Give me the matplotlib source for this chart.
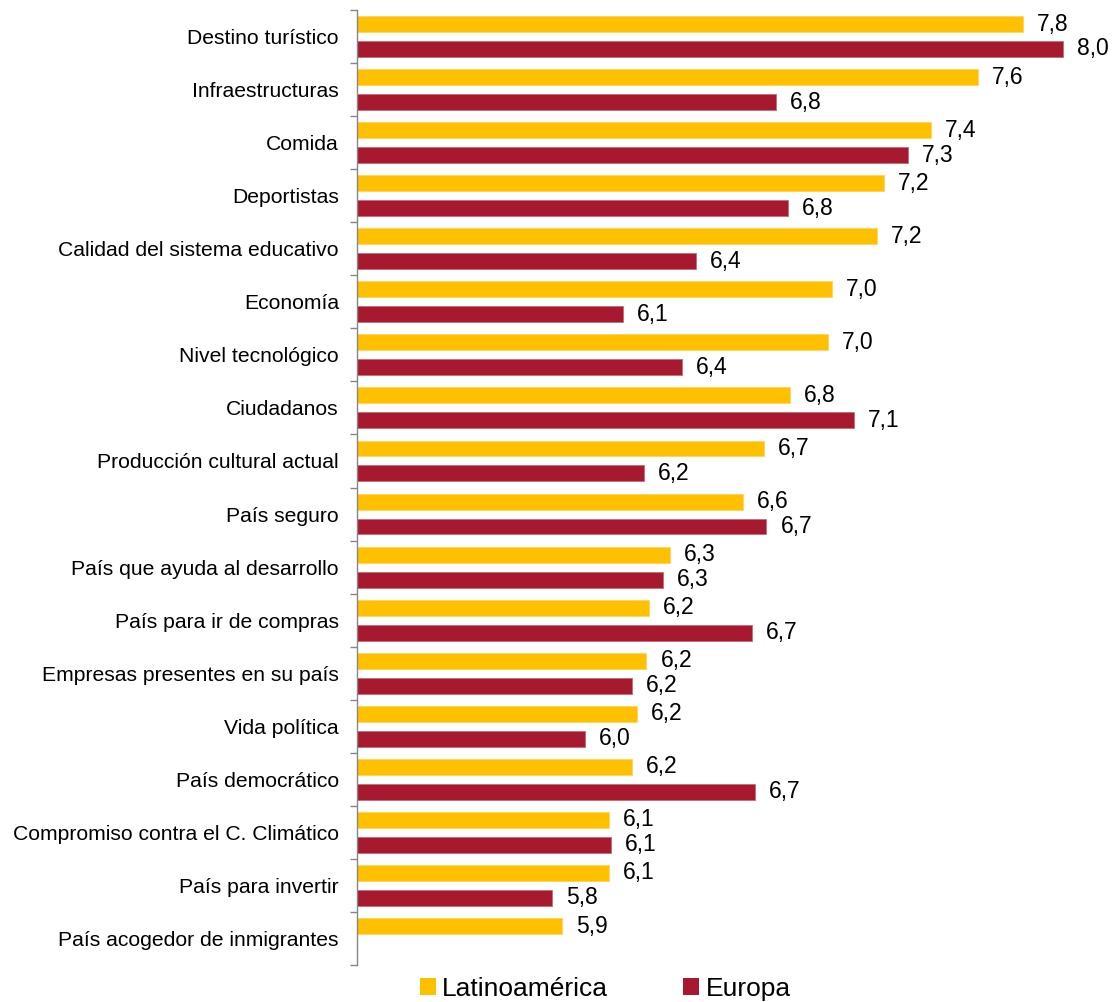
import numpy as np
import matplotlib
matplotlib.use("Agg")
import matplotlib.pyplot as plt
from matplotlib.patches import Patch

plt.rcParams['font.family'] = ['Liberation Sans', 'DejaVu Sans']

categories = ["Destino turístico", "Infraestructuras", "Comida", "Deportistas",
              "Calidad del sistema educativo", "Economía", "Nivel tecnológico",
              "Ciudadanos", "Producción cultural actual", "País seguro",
              "País que ayuda al desarrollo", "País para ir de compras",
              "Empresas presentes en su país", "Vida política", "País democrático",
              "Compromiso contra el C. Climático", "País para invertir",
              "País acogedor de inmigrantes"]

latam = [7.83, 7.64, 7.44, 7.24, 7.21, 7.02, 7.00, 6.84, 6.73, 6.64,
         6.33, 6.24, 6.23, 6.19, 6.17, 6.07, 6.07, 5.87]
europa = [8.00, 6.78, 7.34, 6.83, 6.44, 6.13, 6.38, 7.11, 6.22, 6.74,
          6.30, 6.68, 6.17, 5.97, 6.69, 6.08, 5.83, np.nan]

latam_labels = ["7,8", "7,6", "7,4", "7,2", "7,2", "7,0", "7,0", "6,8", "6,7", "6,6",
                "6,3", "6,2", "6,2", "6,2", "6,2", "6,1", "6,1", "5,9"]
europa_labels = ["8,0", "6,8", "7,3", "6,8", "6,4", "6,1", "6,4", "7,1", "6,2", "6,7",
                 "6,3", "6,7", "6,2", "6,0", "6,7", "6,1", "5,8", ""]

series_names = ["Latinoamérica", "Europa"]
colors = ["#FFC000", "#A6192E"]

XMIN = 5.0
XMAX = 8.2
W, H = 1119, 1002
fig = plt.figure(figsize=(W / 100, H / 100), dpi=100)
left, right = 357 / W, 1110 / W
bottom, top = (H - 965) / H, 1 - 10 / H
ax = fig.add_axes([left, bottom, right - left, top - bottom])

n = len(categories)
y = np.arange(n)
bh = 0.30
off = 0.235

lat_w = np.array(latam) - XMIN
eur_w = np.nan_to_num(np.array(europa) - XMIN, nan=0.0)
ax.barh(y - off, lat_w, left=XMIN, height=bh, color=colors[0], edgecolor='#FFD35A', linewidth=0.6)
ax.barh(y + off, eur_w, left=XMIN, height=bh, color=colors[1], edgecolor='#C46B78', linewidth=0.6)

pad = 14 * (XMAX - XMIN) / (1110 - 357)
for i in range(n):
    ax.text(latam[i] + pad, y[i] - off, latam_labels[i], va='center', ha='left', fontsize=16.5, color='black')
    if not np.isnan(europa[i]):
        ax.text(europa[i] + pad, y[i] + off, europa_labels[i], va='center', ha='left', fontsize=16.5, color='black')

ax.set_xlim(XMIN, XMAX)
ax.set_ylim(n - 0.5, -0.5)
ax.set_yticks(y)
ax.set_yticklabels(categories, fontsize=15.2)
ax.tick_params(axis='y', which='major', length=0, pad=13)
ax.set_yticks(np.arange(n + 1) - 0.5, minor=True)
ax.tick_params(axis='y', which='minor', length=5, color='#868686', width=1)
ax.set_xticks([])
for s in ['top', 'right', 'bottom']:
    ax.spines[s].set_visible(False)
ax.spines['left'].set_color('#868686')
ax.spines['left'].set_linewidth(1)

handles = [Patch(facecolor=colors[0], edgecolor='none'), Patch(facecolor=colors[1], edgecolor='none')]
fig.legend(handles, series_names, loc='center', bbox_to_anchor=(0.541, 0.013), ncol=2,
           frameon=False, fontsize=19, handlelength=0.6, handleheight=0.6,
           handletextpad=0.25, columnspacing=2.85, borderaxespad=0, borderpad=0)

fig.savefig("out.png", dpi=100)
